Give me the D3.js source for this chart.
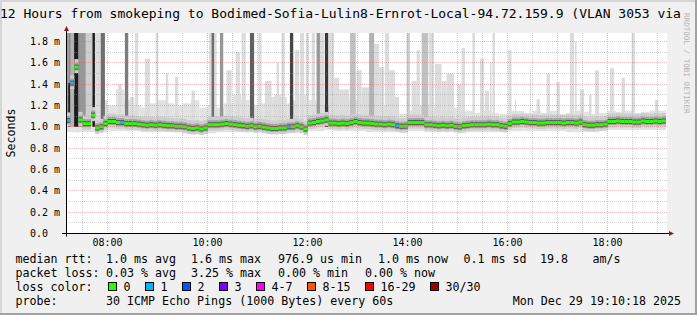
<!DOCTYPE html>
<html>
<head>
<meta charset="utf-8">
<script src="https://cdn.jsdelivr.net/npm/d3@7"></script>
<style>
  html, body { margin: 0; padding: 0; background: #f0f0f0; }
  svg { display: block; }
  text { font-family: "DejaVu Sans Mono", monospace; fill: #000; }
</style>
</head>
<body>
<div id="smoke-graph"></div>
<script>
// ---- values ----

const graphStart = "2025-12-29 07:10:18";
const graphEnd = "2025-12-29 19:10:18";
const titleText = "12 Hours from smokeping to Bodimed-Sofia-Lulin8-Ernrot-Local-94.72.159.9 (VLAN 3053 via";

// median rtt (ms), one value every 5 minutes from graphStart
const medianStep = 5;
const medianRtt = [
  1.06, 1.41, 1.56, 1.065, 1.03, 1.03, 1.11, 0.99, 1.0, 1.03,
  1.05, 1.05, 1.04, 1.04, 1.03, 1.03, 1.03, 1.025, 1.02, 1.015,
  1.02, 1.015, 1.02, 1.015, 1.01, 1.01, 1.005, 1.005, 1.0, 0.99,
  0.985, 0.99, 0.98, 0.99, 1.02, 1.02, 1.02, 1.025, 1.03, 1.025,
  1.02, 1.015, 1.01, 1.005, 1.01, 1.0, 1.005, 0.997, 0.99, 0.985,
  0.985, 0.99, 0.99, 1.0, 1.0, 1.01, 1.0, 0.98, 1.035, 1.04,
  1.05, 1.055, 1.065, 1.035, 1.035, 1.03, 1.035, 1.03, 1.04, 1.05,
  1.04, 1.035, 1.035, 1.03, 1.025, 1.025, 1.02, 1.025, 1.02, 1.01,
  1.005, 1.006, 1.04, 1.04, 1.04, 1.04, 1.02, 1.02, 1.015, 1.01,
  1.015, 1.01, 1.015, 1.005, 1.0, 1.01, 1.015, 1.02, 1.02, 1.02,
  1.02, 1.025, 1.02, 1.02, 1.01, 1.005, 1.03, 1.045, 1.045, 1.05,
  1.045, 1.04, 1.04, 1.035, 1.035, 1.04, 1.04, 1.04, 1.04, 1.035,
  1.04, 1.04, 1.035, 1.045, 1.02, 1.015, 1.015, 1.02, 1.02, 1.025,
  1.05, 1.05, 1.055, 1.05, 1.05, 1.05, 1.045, 1.045, 1.055, 1.05,
  1.05, 1.055, 1.05, 1.055
];

// lost pings (out of 30) for each median sample
const lossCount = [
  1, 1, 0, 0, 0, 0, 0, 0, 0, 0,  0, 0, 0, 1, 0, 0, 0, 0, 0, 0,
  0, 0, 0, 0, 0, 0, 0, 0, 0, 0,  0, 0, 0, 0, 0, 0, 0, 0, 0, 0,
  0, 0, 0, 0, 0, 0, 0, 0, 0, 0,  0, 0, 0, 1, 0, 0, 0, 0, 0, 0,
  0, 0, 0, 0, 0, 0, 0, 0, 0, 0,  0, 0, 0, 0, 0, 0, 0, 0, 0, 1,
  0, 0, 0, 0, 0, 0, 0, 0, 0, 0,  0, 0, 0, 0, 0, 0, 0, 0, 0, 0,
  0, 0, 0, 0, 0, 0, 0, 0, 0, 0,  0, 0, 0, 0, 0, 0, 0, 0, 0, 0,
  0, 0, 0, 0, 0, 0, 0, 0, 0, 0,  0, 0, 0, 0, 0, 0, 0, 0, 0, 0,
  0, 0, 0, 0
];

// light smoke envelope (ms), one block every 10 minutes
const hazeStep = 10;
const hazeLow = [
  0.95, 0.95, 0.95, 0.95, 0.95, 0.96, 0.96, 0.96, 0.96, 0.95,
  0.95, 0.95, 0.95, 0.95, 0.94, 0.93, 0.93, 0.94, 0.95, 0.95,
  0.95, 0.95, 0.95, 0.95, 0.94, 0.94, 0.94, 0.94, 0.94, 0.96,
  0.96, 0.97, 0.96, 0.96, 0.96, 0.96, 0.95, 0.95, 0.95, 0.95,
  0.94, 0.96, 0.96, 0.95, 0.95, 0.95, 0.95, 0.94, 0.95, 0.95,
  0.95, 0.95, 0.95, 0.96, 0.96, 0.96, 0.96, 0.96, 0.96, 0.96,
  0.95, 0.95, 0.95, 0.95, 0.96, 0.97, 0.97, 0.97, 0.97, 0.97,
  0.97, 0.97
];
const hazeHigh = [
  1.3, 1.3, 1.3, 1.3, 1.25, 1.2, 1.35, 1.25, 1.2, 1.18,
  1.22, 1.25, 1.22, 1.2, 1.22, 1.25, 1.18, 1.2, 1.18, 1.22,
  1.3, 1.25, 1.2, 1.22, 1.28, 1.3, 1.22, 1.25, 1.3, 1.25,
  1.22, 1.2, 1.25, 1.3, 1.25, 1.22, 1.2, 1.25, 1.2, 1.15,
  1.12, 1.15, 1.2, 1.2, 1.18, 1.15, 1.18, 1.15, 1.15, 1.13,
  1.15, 1.13, 1.12, 1.15, 1.15, 1.13, 1.15, 1.13, 1.15, 1.12,
  1.13, 1.15, 1.14, 1.12, 1.13, 1.15, 1.14, 1.15, 1.13, 1.14,
  1.15, 1.15
];

// smoke spikes: from, to, highest rtt (ms), pings above the body
const spikes = [
  ["07:10", "07:13", 1.9, 6], ["07:13", "07:16", 1.9, 7], ["07:13", "07:15", 1.41, 15],
  ["07:16", "07:20", 1.9, 4], ["07:20", "07:25", 1.9, 15], ["07:25", "07:27", 1.9, 7],
  ["07:27", "07:34", 1.9, 6], ["07:34", "07:42", 1.9, 2], ["07:42", "07:45", 1.9, 15],
  ["07:45", "07:52", 1.9, 1], ["07:52", "07:57", 1.9, 9], ["07:57", "08:01", 1.2, 1],
  ["08:13", "08:17", 1.40, 1], ["08:21", "08:25", 1.9, 8], ["08:27", "08:32", 1.28, 1],
  ["08:33", "08:37", 1.9, 1], ["08:45", "08:51", 1.64, 1], ["08:58", "09:01", 1.9, 1],
  ["09:10", "09:13", 1.5, 1], ["09:21", "09:25", 1.47, 1], ["09:41", "09:45", 1.34, 1],
  ["10:02", "10:11", 1.9, 1], ["10:05", "10:08", 1.9, 9], ["10:15", "10:19", 1.9, 6],
  ["10:23", "10:29", 1.53, 1], ["10:34", "10:39", 1.7, 1], ["10:41", "10:46", 1.9, 1],
  ["10:51", "10:56", 1.9, 10], ["11:01", "11:05", 1.9, 1], ["11:09", "11:17", 1.43, 1],
  ["11:19", "11:35", 1.28, 1], ["11:23", "11:26", 1.6, 1], ["11:29", "11:33", 1.9, 1],
  ["11:39", "11:43", 1.9, 12], ["11:45", "11:50", 1.72, 1], ["11:51", "11:56", 1.9, 1],
  ["11:58", "12:02", 1.9, 1], ["12:05", "12:09", 1.9, 1], ["12:11", "12:15", 1.9, 6],
  ["12:15", "12:20", 1.9, 1], ["12:21", "12:25", 1.9, 13], ["12:26", "12:32", 1.9, 1],
  ["12:32", "12:38", 1.46, 1], ["12:38", "12:50", 1.35, 1], ["12:51", "12:58", 1.9, 3],
  ["12:59", "13:05", 1.53, 1], ["13:05", "13:14", 1.37, 1], ["13:14", "13:20", 1.9, 4],
  ["13:20", "13:26", 1.78, 1], ["13:26", "13:32", 1.56, 1], ["13:33", "13:38", 1.9, 1],
  ["13:38", "13:45", 1.53, 1], ["13:45", "13:50", 1.28, 1], ["13:59", "14:03", 1.9, 2],
  ["14:05", "14:11", 1.43, 1], ["14:11", "14:15", 1.72, 1], ["14:17", "14:25", 1.9, 3],
  ["14:26", "14:32", 1.9, 1], ["14:33", "14:41", 1.59, 1], ["14:41", "14:47", 1.43, 1],
  ["14:47", "14:56", 1.5, 1], ["15:00", "15:05", 1.4, 1], ["15:05", "15:09", 1.74, 1],
  ["15:18", "15:21", 1.9, 1], ["15:27", "15:32", 1.64, 1], ["15:33", "15:38", 1.34, 1],
  ["15:39", "15:41", 1.6, 1], ["15:42", "15:45", 1.9, 1], ["16:01", "16:05", 1.72, 1],
  ["16:09", "16:10", 1.26, 1], ["16:27", "16:28", 1.54, 1], ["16:35", "16:39", 1.26, 1],
  ["16:47", "16:51", 1.5, 1], ["16:59", "17:03", 1.42, 1], ["17:15", "17:20", 1.9, 1],
  ["17:21", "17:23", 1.8, 1], ["17:27", "17:32", 1.35, 1], ["17:38", "17:41", 1.3, 1],
  ["17:45", "17:50", 1.53, 1], ["18:03", "18:08", 1.55, 1], ["18:17", "18:21", 1.46, 1],
  ["18:29", "18:33", 1.9, 1], ["18:57", "19:01", 1.25, 1]
];

// legend texts
const rttStats = ["median rtt:", "1.0 ms avg", "1.6 ms max", "976.9 us min", "1.0 ms now", "0.1 ms sd", "19.8", "am/s"];
const lossStats = ["packet loss:", "0.03 % avg", "3.25 % max", "0.00 % min", "0.00 % now"];
const lossClasses = ["0", "1", "2", "3", "4-7", "8-15", "16-29", "30/30"];
const probeText = "30 ICMP Echo Pings (1000 Bytes) every 60s";
const stampText = "Mon Dec 29 19:10:18 2025";

//---------------------------------------------------------------------------------------

const width = 697;
const height = 315;
const plot = { left: 66, right: 666, top: 33, bottom: 233 };

const lossColors = ["#26ff00", "#00b8ff", "#0059ff", "#7e00ff", "#ff00ff", "#ff5500", "#ff0000", "#a00000"];
const lossClass = n => n === 0 ? 0 : n === 1 ? 1 : n === 2 ? 2 : n === 3 ? 3 : n <= 7 ? 4 : n <= 15 ? 5 : n <= 29 ? 6 : 7;

const parseFull = d3.timeParse("%Y-%m-%d %H:%M:%S");
const t0 = parseFull(graphStart);
const t1 = parseFull(graphEnd);
const atClock = hm => parseFull(graphStart.slice(0, 11) + hm + ":00");

const medianData = medianRtt.map((v, i) => ({
  t: d3.timeMinute.offset(t0, i * medianStep),
  t2: d3.timeMinute.offset(t0, (i + 1) * medianStep),
  v: v,
  loss: lossCount[i]
}));
const hazeData = hazeHigh.map((v, i) => ({
  t: d3.timeMinute.offset(t0, i * hazeStep),
  t2: d3.timeMinute.offset(t0, (i + 1) * hazeStep),
  lo: hazeLow[i],
  hi: v
}));
const spikeData = spikes
  .map(s => ({ t: atClock(s[0]), t2: atClock(s[1]), hi: s[2], n: s[3] }))
  .sort((a, b) => d3.ascending(a.n, b.n));

// scales
const scaleX = d3.scaleTime().domain([t0, t1]).range([plot.left, plot.right]);
const scaleY = d3.scaleLinear().domain([0, 1.875]).range([plot.bottom + 0.5, plot.top + 0.5]);
const shade = d3.scaleLinear().domain([1, 15]).range(["#dcdcdc", "#1c1c1c"]);
const px = v => Math.floor(v) + 0.5;

const svg = d3.select("#smoke-graph")
  .append("svg")
  .attr("width", width)
  .attr("height", height)
  .attr("viewBox", [0, 0, width, height]);

// background with rrdtool shading
svg.append("rect").attr("width", width).attr("height", height).attr("fill", "#f0f0f0");
svg.append("path").attr("d", `M0,${height} V0 H${width}`).attr("stroke", "#d6d6d6").attr("stroke-width", 4).attr("fill", "none");
svg.append("path").attr("d", `M0,${height} H${width} V0`).attr("stroke", "#a2a2a2").attr("stroke-width", 4).attr("fill", "none");

svg.append("clipPath").attr("id", "plot-clip")
  .append("rect").attr("x", plot.left).attr("y", plot.top)
  .attr("width", plot.right - plot.left + 1).attr("height", plot.bottom - plot.top + 1);

svg.append("rect")
  .attr("x", plot.left).attr("y", plot.top)
  .attr("width", plot.right - plot.left + 1).attr("height", plot.bottom - plot.top + 1)
  .attr("fill", "#ffffff");

const gPlot = svg.append("g").attr("clip-path", "url(#plot-clip)");

// light smoke
gPlot.append("g").selectAll("rect")
  .data(hazeData)
  .join("rect")
  .attr("x", d => scaleX(d.t))
  .attr("width", d => scaleX(d.t2) - scaleX(d.t))
  .attr("y", d => scaleY(d.hi))
  .attr("height", d => scaleY(d.lo) - scaleY(d.hi))
  .attr("fill", "#e2e2e2");

// spikes
gPlot.append("g").selectAll("rect")
  .data(spikeData)
  .join("rect")
  .attr("x", d => scaleX(d.t))
  .attr("width", d => Math.max(1, scaleX(d.t2) - scaleX(d.t)))
  .attr("y", d => scaleY(d.hi))
  .attr("height", d => scaleY(1.0) - scaleY(d.hi))
  .attr("fill", d => shade(d.n));

// smoke body around the median
const bodyLayers = [
  { up: 8, down: 6, fill: "#cdcdcd" },
  { up: 4.5, down: 3.5, fill: "#a4a4a4" },
  { up: 2.5, down: 2.5, fill: "#585858" }
];
bodyLayers.forEach(layer => {
  gPlot.append("g").selectAll("rect")
    .data(medianData)
    .join("rect")
    .attr("x", d => scaleX(d.t))
    .attr("width", d => scaleX(d.t2) - scaleX(d.t))
    .attr("y", d => scaleY(d.v) - layer.up)
    .attr("height", layer.up + layer.down)
    .attr("fill", layer.fill);
});

// median coloured by loss
gPlot.append("g").selectAll("rect")
  .data(medianData)
  .join("rect")
  .attr("x", d => scaleX(d.t))
  .attr("width", d => scaleX(d.t2) - scaleX(d.t))
  .attr("y", d => scaleY(d.v) - 1.5)
  .attr("height", 3)
  .attr("fill", d => lossColors[lossClass(d.loss)]);

//---------------------------------------------------------------------------------------

// grid (drawn over the data, as rrdtool does)
const gGrid = svg.append("g").attr("stroke-dasharray", "1,1").attr("stroke-width", 1);

const hourTicks = d3.timeHour.every(1).range(t0, t1);
const halfTicks = d3.timeMinute.every(30).range(t0, t1).filter(d => d.getMinutes() === 30);
const yMajor = scaleY.ticks(10).filter(v => v > 0);
const yMinor = d3.range(1, 19, 2).map(k => k / 10);

gGrid.selectAll(".vminor").data(halfTicks).join("line")
  .attr("x1", d => px(scaleX(d))).attr("x2", d => px(scaleX(d)))
  .attr("y1", plot.top).attr("y2", plot.bottom)
  .attr("stroke", "rgba(150,150,150,0.45)");
gGrid.selectAll(".hminor").data(yMinor).join("line")
  .attr("x1", plot.left).attr("x2", plot.right + 2)
  .attr("y1", d => px(scaleY(d))).attr("y2", d => px(scaleY(d)))
  .attr("stroke", "rgba(150,150,150,0.45)");
gGrid.selectAll(".vmajor").data(hourTicks).join("line")
  .attr("x1", d => px(scaleX(d))).attr("x2", d => px(scaleX(d)))
  .attr("y1", plot.top).attr("y2", plot.bottom)
  .attr("stroke", "rgba(220,90,90,0.4)");
gGrid.selectAll(".hmajor").data(yMajor).join("line")
  .attr("x1", plot.left).attr("x2", plot.right + 2)
  .attr("y1", d => px(scaleY(d))).attr("y2", d => px(scaleY(d)))
  .attr("stroke", "rgba(220,90,90,0.4)");

// axes with arrows
const axisY0 = px(scaleY(0));
const axisX0 = px(scaleX(t0));
svg.append("line").attr("x1", 62).attr("x2", 670).attr("y1", axisY0).attr("y2", axisY0).attr("stroke", "#000");
svg.append("line").attr("x1", axisX0).attr("x2", axisX0).attr("y1", axisY0 + 3).attr("y2", 30).attr("stroke", "#000");
svg.append("path").attr("d", `M669,${axisY0 - 2.5} L674,${axisY0} L669,${axisY0 + 2.5} Z`).attr("fill", "#8c1a1a");
svg.append("path").attr("d", `M${axisX0 - 2.5},31 L${axisX0},26 L${axisX0 + 2.5},31 Z`).attr("fill", "#8c1a1a");

// y labels
svg.append("g").selectAll("text")
  .data(scaleY.ticks(10))
  .join("text")
  .attr("x", 30)
  .attr("y", d => px(scaleY(d)) + 3.5)
  .attr("font-size", "10px")
  .text(d => d === 0 ? "0.0" : d3.format(".1f")(d) + " m");

// x labels
svg.append("g").selectAll("text")
  .data(hourTicks.filter(d => d.getHours() % 2 === 0))
  .join("text")
  .attr("x", d => px(scaleX(d)))
  .attr("y", 245.5)
  .attr("text-anchor", "middle")
  .attr("font-size", "10px")
  .text(d3.timeFormat("%H:%M"));

// titles
svg.append("text").attr("x", 0).attr("y", 18).attr("font-size", "13px").text(titleText);
svg.append("text")
  .attr("transform", "translate(14.5,133) rotate(-90)")
  .attr("text-anchor", "middle")
  .attr("font-size", "11.6px")
  .text("Seconds");
svg.append("text")
  .attr("transform", "translate(684,13) rotate(90)")
  .attr("font-size", "7.6px")
  .style("fill", "#b4b4b4")
  .text("RRDTOOL / TOBI OETIKER");

//---------------------------------------------------------------------------------------

// legend
const legendFont = "11.65px";
const rttX = [15.5, 106, 191, 278, 378, 463.5, 540, 592.5];
const lossX = [15.5, 106, 191, 278, 365];

svg.append("g").selectAll("text").data(rttStats).join("text")
  .attr("x", (d, i) => rttX[i]).attr("y", 263).attr("font-size", legendFont).text(d => d);
svg.append("g").selectAll("text").data(lossStats).join("text")
  .attr("x", (d, i) => lossX[i]).attr("y", 277).attr("font-size", legendFont).text(d => d);

svg.append("text").attr("x", 15.5).attr("y", 291).attr("font-size", legendFont).text("loss color:");
let cursor = 108.5;
const gKeys = svg.append("g");
lossClasses.forEach((label, i) => {
  gKeys.append("rect")
    .attr("x", cursor).attr("y", 282.5).attr("width", 8).attr("height", 8)
    .attr("fill", lossColors[i]).attr("stroke", "#000").attr("stroke-width", 1);
  gKeys.append("text")
    .attr("x", cursor + 15).attr("y", 291).attr("font-size", legendFont).text(label);
  cursor += 15 + label.length * 7 + 15;
});

svg.append("text").attr("x", 15.5).attr("y", 305).attr("font-size", legendFont).text("probe:");
svg.append("text").attr("x", 106).attr("y", 305).attr("font-size", legendFont).text(probeText);
svg.append("text").attr("x", 681).attr("y", 305).attr("text-anchor", "end").attr("font-size", legendFont).text(stampText);
</script>
</body>
</html>
